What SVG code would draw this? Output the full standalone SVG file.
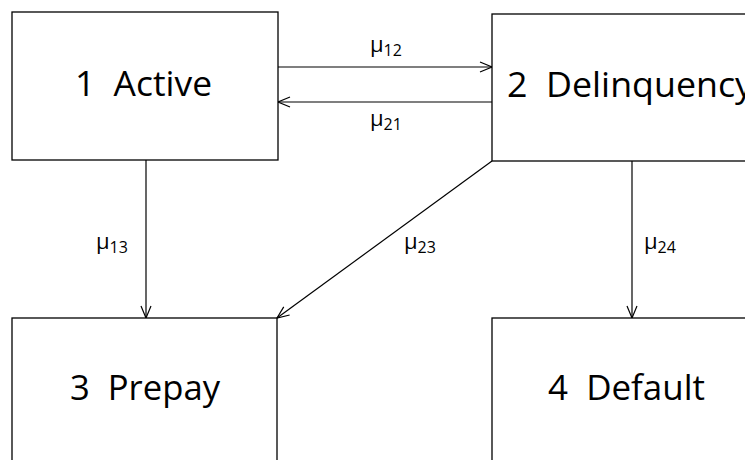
<svg xmlns="http://www.w3.org/2000/svg" width="745" height="460" viewBox="0 0 745 460">
<style>
.box{fill:#fff;stroke:#000;stroke-width:1.3}
.t{font-family:"Open Sans","Liberation Sans",sans-serif;font-size:35px;fill:#000;white-space:pre}
.m{font-family:"Open Sans","Liberation Sans",sans-serif;font-size:22px;fill:#000}
.s{font-size:16px}
.c{stroke:#000;stroke-width:1.2;fill:none;marker-end:url(#a)}
</style>
<defs>
<marker id="a" markerWidth="14" markerHeight="12" refX="13" refY="6" orient="auto" markerUnits="userSpaceOnUse">
<path d="M1,1 L13,6 L1,11" fill="none" stroke="#000" stroke-width="1.2"/>
</marker>
</defs>
<rect width="745" height="460" fill="#fff"/>
<g id="connectors">
<line class="c" x1="278" y1="67" x2="492" y2="67"/>
<line class="c" x1="492" y1="102" x2="278" y2="102"/>
<line class="c" x1="146" y1="160" x2="146" y2="318"/>
<line class="c" x1="492" y1="161" x2="277" y2="318"/>
<line class="c" x1="632" y1="161" x2="632" y2="318"/>
<text class="m" x="370" y="52">μ<tspan class="s" dy="4">12</tspan></text>
<text class="m" x="370" y="126">μ<tspan class="s" dy="4">21</tspan></text>
<text class="m" x="96" y="249">μ<tspan class="s" dy="4">13</tspan></text>
<text class="m" x="404" y="249">μ<tspan class="s" dy="4">23</tspan></text>
<text class="m" x="644" y="249">μ<tspan class="s" dy="4">24</tspan></text>
</g>
<g id="n1"><rect class="box" x="12" y="12" width="266" height="148"/><text class="t" x="75" y="96" textLength="137" lengthAdjust="spacingAndGlyphs">1  Active</text></g>
<g id="n2"><rect class="box" x="492" y="14" width="270" height="147"/><text class="t" x="507" y="97" textLength="246" lengthAdjust="spacingAndGlyphs">2  Delinquency</text></g>
<g id="n3"><rect class="box" x="12" y="318" width="265" height="160"/><text class="t" x="70" y="400" textLength="150" lengthAdjust="spacingAndGlyphs">3  Prepay</text></g>
<g id="n4"><rect class="box" x="492" y="318" width="270" height="160"/><text class="t" x="548" y="400" textLength="157" lengthAdjust="spacingAndGlyphs">4  Default</text></g>
</svg>
